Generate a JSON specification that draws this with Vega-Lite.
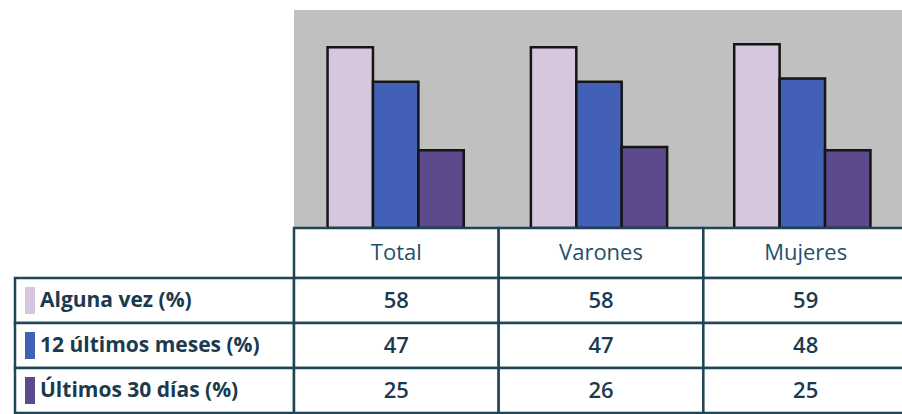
{
  "$schema": "https://vega.github.io/schema/vega-lite/v6.json",
  "padding": {"top": 10, "left": 13, "right": 0, "bottom": 0},
  "background": "white",
  "config": {"view": {"stroke": null}, "concat": {"spacing": 0}},
  "datasets": {
    "d": [
      {"group": "Total", "series": "Alguna vez (%)", "value": 58},
      {"group": "Total", "series": "12 últimos meses (%)", "value": 47},
      {"group": "Total", "series": "Últimos 30 días (%)", "value": 25},
      {"group": "Varones", "series": "Alguna vez (%)", "value": 58},
      {"group": "Varones", "series": "12 últimos meses (%)", "value": 47},
      {"group": "Varones", "series": "Últimos 30 días (%)", "value": 26},
      {"group": "Mujeres", "series": "Alguna vez (%)", "value": 59},
      {"group": "Mujeres", "series": "12 últimos meses (%)", "value": 48},
      {"group": "Mujeres", "series": "Últimos 30 días (%)", "value": 25}
    ]
  },
  "columns": 2,
  "align": "each",
  "bounds": "flush",
  "spacing": 0,
  "concat": [
    {
      "width": 279, "height": 218,
      "data": {"values": [{}]},
      "mark": {"type": "text", "text": ""},
      "encoding": {}
    },
    {
      "width": 610, "height": 218,
      "data": {"name": "d"},
      "view": {"fill": "#c0c0c0", "stroke": null},
      "mark": {"type": "bar", "stroke": "#151515", "strokeWidth": 2.5},
      "encoding": {
        "x": {"field": "group", "type": "nominal", "sort": ["Total", "Varones", "Mujeres"], "scale": {"paddingInner": 0.33, "paddingOuter": 0.165}, "axis": null},
        "xOffset": {"field": "series", "type": "nominal", "sort": ["Alguna vez (%)", "12 últimos meses (%)", "Últimos 30 días (%)"], "scale": {"paddingInner": 0, "paddingOuter": 0}},
        "y": {"field": "value", "type": "quantitative", "scale": {"domain": [0, 70]}, "axis": null},
        "color": {"field": "series", "type": "nominal", "scale": {"domain": ["Alguna vez (%)", "12 últimos meses (%)", "Últimos 30 días (%)"], "range": ["#d6c6de", "#4160b6", "#5d4a8c"]}, "legend": null}
      }
    },
    {
      "width": 279, "height": 50,
      "data": {"values": [{}]},
      "mark": {"type": "text", "text": ""},
      "encoding": {}
    },
    {
      "width": 610, "height": 50,
      "data": {"name": "d"},
      "transform": [{"filter": "datum.series === 'Alguna vez (%)'"}],
      "encoding": {
        "x": {"field": "group", "type": "nominal", "sort": ["Total", "Varones", "Mujeres"], "scale": {"paddingInner": 0, "paddingOuter": 0, "range": [0, 614]}, "axis": null}
      },
      "layer": [
        {"mark": {"type": "rect", "fill": "white", "stroke": "#1f4656", "strokeWidth": 2.5}},
        {"mark": {"type": "text", "fontSize": 22, "font": "Open Sans", "color": "#24506a", "baseline": "middle"}, "encoding": {"text": {"field": "group"}}}
      ]
    },
    {
      "width": 279, "height": 135,
      "data": {"name": "d"},
      "transform": [{"filter": "datum.group === 'Total'"}],
      "encoding": {
        "y": {"field": "series", "type": "nominal", "sort": ["Alguna vez (%)", "12 últimos meses (%)", "Últimos 30 días (%)"], "scale": {"paddingInner": 0, "paddingOuter": 0}, "axis": null}
      },
      "layer": [
        {"mark": {"type": "rect", "fill": "white", "stroke": "#1f4656", "strokeWidth": 2.5}, "encoding": {"x": {"value": 0}, "x2": {"value": "width"}}},
        {"mark": {"type": "point", "filled": true, "opacity": 1, "size": 729, "shape": "M-0.37,-1L0.37,-1L0.37,1L-0.37,1Z"}, "encoding": {"x": {"value": 15}, "color": {"field": "series", "type": "nominal", "scale": {"domain": ["Alguna vez (%)", "12 últimos meses (%)", "Últimos 30 días (%)"], "range": ["#d6c6de", "#2f6cc8", "#5d4a8c"]}, "legend": null}}},
        {"mark": {"type": "text", "align": "left", "baseline": "middle", "fontSize": 21, "font": "Open Sans", "fontWeight": "bold", "color": "#1b3a4e"}, "encoding": {"x": {"value": 25}, "text": {"field": "series"}}}
      ]
    },
    {
      "width": 610, "height": 135,
      "data": {"name": "d"},
      "encoding": {
        "x": {"field": "group", "type": "nominal", "sort": ["Total", "Varones", "Mujeres"], "scale": {"paddingInner": 0, "paddingOuter": 0, "range": [0, 614]}, "axis": null},
        "y": {"field": "series", "type": "nominal", "sort": ["Alguna vez (%)", "12 últimos meses (%)", "Últimos 30 días (%)"], "scale": {"paddingInner": 0, "paddingOuter": 0}, "axis": null}
      },
      "layer": [
        {"mark": {"type": "rect", "fill": "white", "stroke": "#1f4656", "strokeWidth": 2.5}},
        {"mark": {"type": "text", "fontSize": 22, "font": "Open Sans", "fontWeight": 600, "color": "#1b3a4e", "baseline": "middle"}, "encoding": {"text": {"field": "value", "type": "quantitative"}}}
      ]
    }
  ]
}
